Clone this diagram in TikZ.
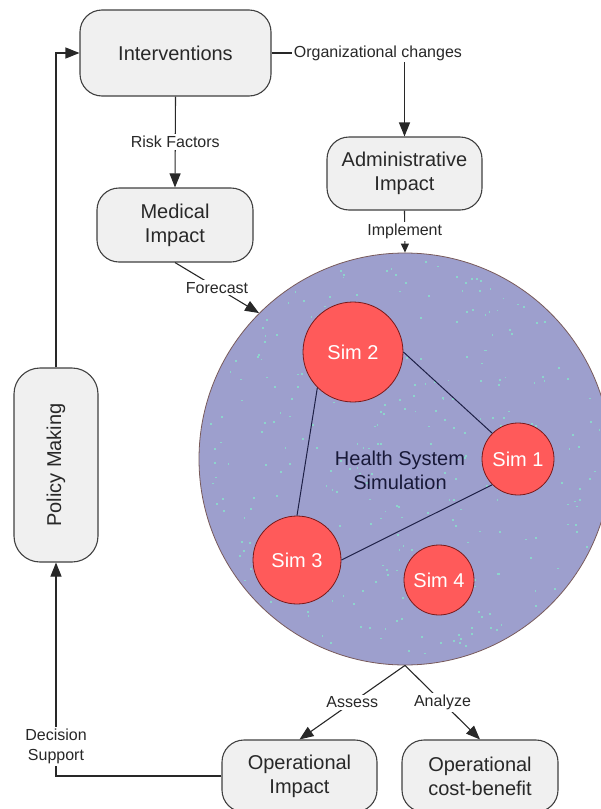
\documentclass[tikz,border=0pt]{standalone}
\usepackage{fontspec}
\setmainfont{Liberation Sans}
\usetikzlibrary{arrows.meta}
\definecolor{boxfill}{RGB}{240,240,240}
\definecolor{boxline}{RGB}{64,64,64}
\definecolor{inkgray}{RGB}{40,40,40}
\definecolor{simfill}{RGB}{157,159,205}
\definecolor{simedge}{RGB}{120,90,90}
\definecolor{redfill}{RGB}{255,90,90}
\definecolor{redline}{RGB}{120,25,25}
\definecolor{speck}{RGB}{140,212,204}
\definecolor{navy}{RGB}{30,32,70}
\begin{document}
\begin{tikzpicture}[x=1pt,y=-1pt,
 box/.style={draw=boxline, line width=1.1pt, fill=boxfill, rounded corners=22pt, align=center,
   font=\fontsize{20}{24}\selectfont, text=inkgray, inner sep=0pt},
 simc/.style={circle, draw=redline, line width=0.8pt, fill=redfill, text=white,
   font=\fontsize{20}{24}\selectfont, inner sep=0pt},
 conn/.style={draw=inkgray, line width=1.1pt, -{Triangle[length=14pt,width=11pt]}},
 lbl/.style={fill=white, inner sep=2pt, font=\fontsize{16}{20}\selectfont, text=inkgray, align=center},
 simlink/.style={draw=navy, line width=1pt}]
\useasboundingbox (0,0) rectangle (601,809);
% boxes
\node[box, minimum width=191pt, minimum height=86pt] (int) at (175.5,53) {Interventions};
\node[box, minimum width=156pt, minimum height=74pt] (med) at (175,225) {Medical\\Impact};
\node[box, minimum width=155pt, minimum height=73pt] (adm) at (404.5,173.5) {Administrative\\Impact};
\node[box, minimum width=194pt, minimum height=84pt, rotate=90, rounded corners=26pt] (pm) at (56,465) {Policy Making};
\node[box, minimum width=155pt, minimum height=72pt] (opi) at (299.5,776) {Operational\\Impact};
\node[box, minimum width=156pt, minimum height=72pt] (opc) at (480,776) {Operational\\cost-benefit};
% simulation circle
\node[circle, draw=simedge, line width=0.8pt, fill=simfill, minimum size=412pt, inner sep=0pt] (hss) at (405,459) {};
\pgfmathsetseed{17}
\foreach \i in {1,...,300}{
  \pgfmathsetmacro\ang{rnd*360}
  \pgfmathsetmacro\rad{sqrt(rnd)*201}
  \fill[speck] ([shift={(\ang:\rad)}]hss.center) rectangle ++(1.8,1.8);
}
\node[text=navy!80!black, align=center, font=\fontsize{20}{24}\selectfont] (hsslbl) at (400,470) {Health System\\Simulation};
% simulations
\node[simc, minimum size=100pt] (s2) at (353,352) {Sim 2};
\node[simc, minimum size=72pt] (s1) at (518,459) {Sim 1};
\node[simc, minimum size=88pt] (s3) at (297,560) {Sim 3};
\node[simc, minimum size=70pt] (s4) at (439,580) {Sim 4};
\draw[simlink] (s2.east) -- (s1.135);
\draw[simlink] (s3.east) -- (s1.225);
\draw[simlink] (s2.225) -- (s3.north);
% connectors
\draw[conn] (int.south) -- node[lbl]{Risk Factors} (med.north);
\draw[conn] (int.east) -| node[lbl, pos=0.4]{Organizational changes} (adm.north);
\draw[draw=inkgray, line width=1.1pt, -{Triangle[length=9pt,width=8pt]}] (adm.south) -- node[lbl]{Implement} (hss.north);
\draw[conn] (med.south) -- node[lbl]{Forecast} (hss.135);
\draw[conn] (hss.south) -- node[lbl]{Assess} (opi.north);
\draw[conn] (hss.south) -- node[lbl]{Analyze} (opc.north);
\draw[conn] (pm.east) |- (int.west);
\draw[conn] (opi.west) -| node[lbl, pos=0.57]{Decision\\Support} (pm.west);
\end{tikzpicture}
\end{document}
